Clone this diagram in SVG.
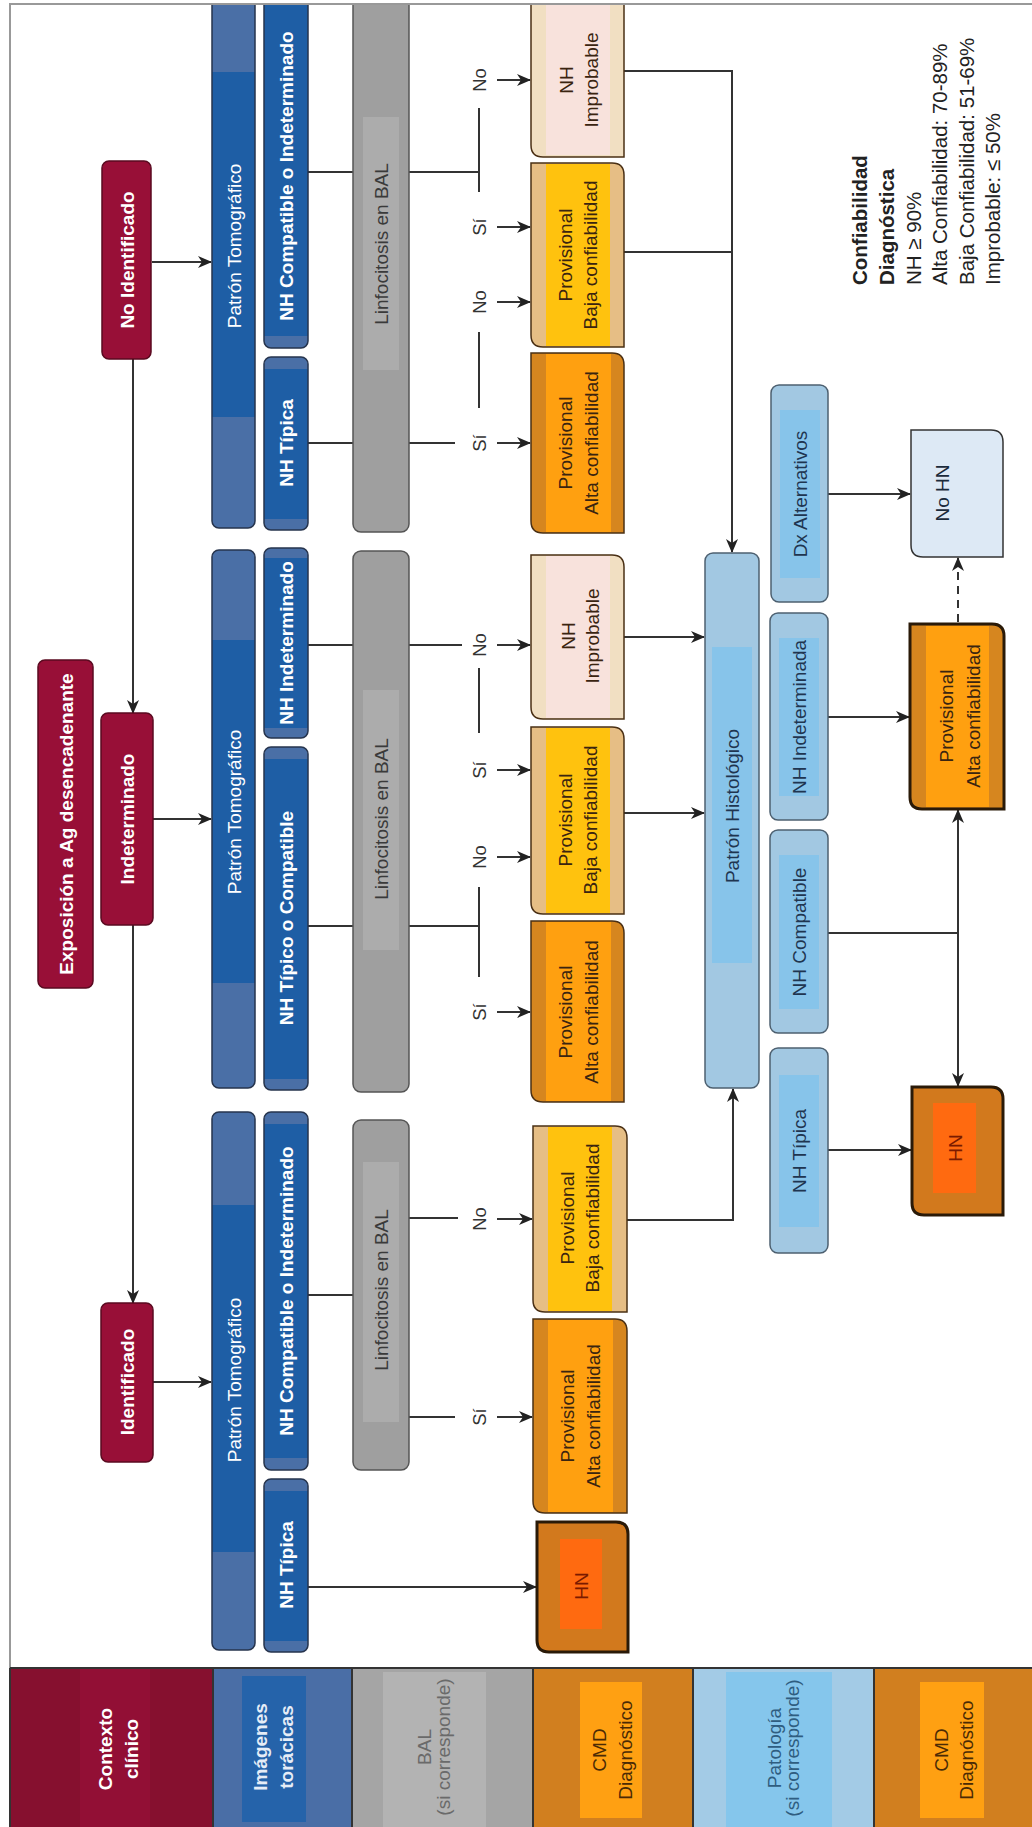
<svg xmlns="http://www.w3.org/2000/svg" width="1032" height="1827" viewBox="0 0 1032 1827">
<style>
text{font-family:"Liberation Sans",Arial,sans-serif;font-size:19px;text-anchor:middle;dominant-baseline:central}
.b{font-weight:bold}
.wt{fill:#ffffff}
.red{fill:#980f37;stroke:#5a0a20;stroke-width:1.5}
.blue-l{fill:#4a6fa6}
.blue-d{fill:#1e5ea5}
.blue-o{fill:none;stroke:#26344d;stroke-width:1.5}
.gray{fill:#9f9f9f}
.gray-i{fill:#acacac}
.gray-o{fill:none;stroke:#555;stroke-width:1.5}
.gt{fill:#3a3a3a}
.alta{fill:#d6861f}
.alta-i{fill:#ffa010}
.baja{fill:#e6be85}
.baja-i{fill:#ffc20e}
.imp{fill:#f1dfc2}
.imp-i{fill:#f8e2dc}
.cmd-o{fill:none;stroke:#4a3015;stroke-width:1.5}
.cmd-o2{fill:none;stroke:#2a1a08;stroke-width:3}
.ct{fill:#3a2410}
.pat{fill:#a2c8e2}
.pat-i{fill:#87c4ea}
.pat-o{fill:none;stroke:#4d6070;stroke-width:1.5}
.pt{fill:#1f3550}
.conn path{fill:none;stroke:#333;stroke-width:2}
.lbl{fill:#333;font-size:18.5px}
.leg{font-size:20.5px;text-anchor:start;fill:#222}
</style>
<defs>
<marker id="ah" markerUnits="userSpaceOnUse" markerWidth="14" markerHeight="12" refX="13" refY="6" orient="auto">
<path d="M0,0 L14,6 L0,12 L4,6 Z" fill="#222"/>
</marker>
<clipPath id="clipTop"><rect x="0" y="5" width="1032" height="1822"/></clipPath>
</defs>
<rect width="1032" height="1827" fill="#ffffff"/>
<!-- frame -->
<path d="M10,1668 V4 H1032" fill="none" stroke="#999" stroke-width="2"/>

<!-- bottom row header band -->
<g id="header-band">
<rect x="10" y="1668" width="203" height="159" fill="#86102f"/>
<rect x="80" y="1668" width="70" height="159" fill="#920f35"/>
<rect x="213" y="1668" width="139" height="159" fill="#4a6ea6"/>
<rect x="242" y="1676" width="64" height="146" fill="#2563aa"/>
<rect x="352" y="1668" width="181" height="159" fill="#a5a5a5"/>
<rect x="383" y="1672" width="103" height="155" fill="#b3b3b3"/>
<rect x="533" y="1668" width="160" height="159" fill="#d17f1f"/>
<rect x="580" y="1682" width="62" height="136" fill="#ffa012"/>
<rect x="693" y="1668" width="181" height="159" fill="#a3cbe6"/>
<rect x="726" y="1672" width="106" height="155" fill="#85c6ec"/>
<rect x="874" y="1668" width="158" height="159" fill="#d17f1f"/>
<rect x="920" y="1682" width="64" height="136" fill="#ffa012"/>
<path d="M10,1668 H1032 M213,1668 V1827 M352,1668 V1827 M533,1668 V1827 M693,1668 V1827 M874,1668 V1827 M10,1668 V1827" stroke="#333" stroke-width="2" fill="none"/>
<text class="b wt" font-size="18" transform="translate(105,1749) rotate(-90)">Contexto</text>
<text class="b wt" font-size="18" transform="translate(131,1749) rotate(-90)">clínico</text>
<text class="b" fill="#e6edf7" font-size="17.5" transform="translate(260,1747) rotate(-90)">Imágenes</text>
<text class="b" fill="#e6edf7" font-size="17.5" transform="translate(286,1747) rotate(-90)">torácicas</text>
<text fill="#6a6a6a" font-size="18" transform="translate(424,1747) rotate(-90)">BAL</text>
<text fill="#6a6a6a" font-size="11.5" transform="translate(443,1747) rotate(-90)">(si corresponde)</text>
<text fill="#4a2a05" font-size="18.5" transform="translate(599,1750) rotate(-90)">CMD</text>
<text fill="#4a2a05" font-size="18.5" transform="translate(625,1750) rotate(-90)">Diagnóstico</text>
<text fill="#2f5d80" font-size="18" transform="translate(774,1748) rotate(-90)">Patología</text>
<text fill="#2f5d80" font-size="11.5" transform="translate(792,1748) rotate(-90)">(si corresponde)</text>
<text fill="#4a2a05" font-size="18.5" transform="translate(941,1750) rotate(-90)">CMD</text>
<text fill="#4a2a05" font-size="18.5" transform="translate(966,1750) rotate(-90)">Diagnóstico</text>
</g>

<!-- connectors -->
<g id="connectors" class="conn">
<path d="M133,359 V713" marker-end="url(#ah)"/>
<path d="M133,925 V1303" marker-end="url(#ah)"/>
<path d="M152,262 H211" marker-end="url(#ah)"/>
<path d="M153,819 H211" marker-end="url(#ah)"/>
<path d="M153,1382 H211" marker-end="url(#ah)"/>
<path d="M308,172 H353"/>
<path d="M308,443 H353"/>
<path d="M308,645 H353"/>
<path d="M308,926 H353"/>
<path d="M308,1295 H353"/>
<path d="M308,1587 H536" marker-end="url(#ah)"/>
<path d="M409,172 H479 M479,108 V192"/>
<path d="M409,443 H455 M479,332 V408"/>
<path d="M409,645 H462 M479,668 V733"/>
<path d="M409,926 H479 M479,887 V977"/>
<path d="M409,1218 H458"/>
<path d="M409,1417 H455"/>
<path d="M497,80 H530" marker-end="url(#ah)"/>
<path d="M497,227 H530" marker-end="url(#ah)"/>
<path d="M497,302 H530" marker-end="url(#ah)"/>
<path d="M497,443 H530" marker-end="url(#ah)"/>
<path d="M497,645 H530" marker-end="url(#ah)"/>
<path d="M497,770 H530" marker-end="url(#ah)"/>
<path d="M497,857 H530" marker-end="url(#ah)"/>
<path d="M497,1012 H530" marker-end="url(#ah)"/>
<path d="M497,1219 H532" marker-end="url(#ah)"/>
<path d="M497,1417 H532" marker-end="url(#ah)"/>
<path d="M624,71 H732 V552" marker-end="url(#ah)"/>
<path d="M624,252 H732"/>
<path d="M624,637 H704" marker-end="url(#ah)"/>
<path d="M624,813 H704" marker-end="url(#ah)"/>
<path d="M627,1220 H733 V1089" marker-end="url(#ah)"/>
<path d="M828,494 H910" marker-end="url(#ah)"/>
<path d="M828,717 H909" marker-end="url(#ah)"/>
<path d="M828,933 H958 M958,933 V810" marker-end="url(#ah)"/>
<path d="M958,933 V1086" marker-end="url(#ah)"/>
<path d="M828,1150 H911" marker-end="url(#ah)"/>
<path d="M958,622 V558" stroke-dasharray="8,6" marker-end="url(#ah)"/>
<text class="lbl" transform="translate(479,80) rotate(-90)">No</text>
<text class="lbl" transform="translate(479,227) rotate(-90)">Sí</text>
<text class="lbl" transform="translate(479,302) rotate(-90)">No</text>
<text class="lbl" transform="translate(479,443) rotate(-90)">Sí</text>
<text class="lbl" transform="translate(479,645) rotate(-90)">No</text>
<text class="lbl" transform="translate(479,770) rotate(-90)">Sí</text>
<text class="lbl" transform="translate(479,857) rotate(-90)">No</text>
<text class="lbl" transform="translate(479,1012) rotate(-90)">Sí</text>
<text class="lbl" transform="translate(479,1219) rotate(-90)">No</text>
<text class="lbl" transform="translate(479,1417) rotate(-90)">Sí</text>
</g>

<g clip-path="url(#clipTop)">
<!-- clinical context -->
<g id="ctx-exposicion">
<rect class="red" x="38" y="660" width="55" height="328" rx="7"/>
<text class="b wt" font-size="17" transform="translate(66,824) rotate(-90)">Exposición a Ag desencadenante</text>
</g>
<g id="ctx-no-identificado">
<rect class="red" x="102" y="161" width="49" height="198" rx="7"/>
<text class="b wt" font-size="18" transform="translate(127,260) rotate(-90)">No Identificado</text>
</g>
<g id="ctx-indeterminado">
<rect class="red" x="101" y="713" width="52" height="212" rx="7"/>
<text class="b wt" font-size="18" transform="translate(127,819) rotate(-90)">Indeterminado</text>
</g>
<g id="ctx-identificado">
<rect class="red" x="101" y="1303" width="52" height="159" rx="7"/>
<text class="b wt" font-size="18" transform="translate(127,1382) rotate(-90)">Identificado</text>
</g>

<!-- imaging -->
<g id="img-patron-a">
<rect class="blue-l" x="212" y="-20" width="43" height="548" rx="7"/>
<rect class="blue-d" x="212" y="72" width="43" height="345"/>
<rect class="blue-o" x="212" y="-20" width="43" height="548" rx="7"/>
<text class="wt" transform="translate(234,246) rotate(-90)">Patrón Tomográfico</text>
</g>
<g id="img-patron-b">
<rect class="blue-l" x="212" y="550" width="43" height="538" rx="7"/>
<rect class="blue-d" x="212" y="640" width="43" height="343"/>
<rect class="blue-o" x="212" y="550" width="43" height="538" rx="7"/>
<text class="wt" transform="translate(234,812) rotate(-90)">Patrón Tomográfico</text>
</g>
<g id="img-patron-c">
<rect class="blue-l" x="212" y="1112" width="43" height="538" rx="7"/>
<rect class="blue-d" x="212" y="1205" width="43" height="347"/>
<rect class="blue-o" x="212" y="1112" width="43" height="538" rx="7"/>
<text class="wt" transform="translate(234,1380) rotate(-90)">Patrón Tomográfico</text>
</g>
<g id="img-nhcompind-a">
<rect class="blue-l" x="264" y="-20" width="44" height="368" rx="7"/>
<rect class="blue-d" x="264" y="5" width="44" height="331"/>
<rect class="blue-o" x="264" y="-20" width="44" height="368" rx="7"/>
<text class="b wt" font-size="17" transform="translate(286,176) rotate(-90)">NH Compatible o Indeterminado</text>
</g>
<g id="img-nhtipica-a">
<rect class="blue-l" x="264" y="357" width="44" height="173" rx="7"/>
<rect class="blue-d" x="264" y="369" width="44" height="150"/>
<rect class="blue-o" x="264" y="357" width="44" height="173" rx="7"/>
<text class="b wt" font-size="17" transform="translate(286,443) rotate(-90)">NH Típica</text>
</g>
<g id="img-nhind-b">
<rect class="blue-l" x="264" y="548" width="44" height="190" rx="7"/>
<rect class="blue-d" x="264" y="558" width="44" height="170"/>
<rect class="blue-o" x="264" y="548" width="44" height="190" rx="7"/>
<text class="b wt" font-size="17" transform="translate(286,643) rotate(-90)">NH Indeterminado</text>
</g>
<g id="img-nhtipcomp-b">
<rect class="blue-l" x="264" y="747" width="44" height="343" rx="7"/>
<rect class="blue-d" x="264" y="759" width="44" height="320"/>
<rect class="blue-o" x="264" y="747" width="44" height="343" rx="7"/>
<text class="b wt" font-size="17" transform="translate(286,918) rotate(-90)">NH Típico o Compatible</text>
</g>
<g id="img-nhcompind-c">
<rect class="blue-l" x="264" y="1112" width="44" height="358" rx="7"/>
<rect class="blue-d" x="264" y="1124" width="44" height="334"/>
<rect class="blue-o" x="264" y="1112" width="44" height="358" rx="7"/>
<text class="b wt" font-size="17" transform="translate(286,1291) rotate(-90)">NH Compatible o Indeterminado</text>
</g>
<g id="img-nhtipica-c">
<rect class="blue-l" x="264" y="1479" width="44" height="173" rx="7"/>
<rect class="blue-d" x="264" y="1491" width="44" height="150"/>
<rect class="blue-o" x="264" y="1479" width="44" height="173" rx="7"/>
<text class="b wt" font-size="17" transform="translate(286,1565) rotate(-90)">NH Típica</text>
</g>

<!-- BAL -->
<g id="bal-a">
<rect class="gray" x="353" y="-20" width="56" height="552" rx="8"/>
<rect class="gray-i" x="363" y="117" width="36" height="253"/>
<rect class="gray-o" x="353" y="-20" width="56" height="552" rx="8"/>
<text class="gt" transform="translate(381,244) rotate(-90)">Linfocitosis en BAL</text>
</g>
<g id="bal-b">
<rect class="gray" x="353" y="551" width="56" height="541" rx="8"/>
<rect class="gray-i" x="363" y="690" width="36" height="260"/>
<rect class="gray-o" x="353" y="551" width="56" height="541" rx="8"/>
<text class="gt" transform="translate(381,819) rotate(-90)">Linfocitosis en BAL</text>
</g>
<g id="bal-c">
<rect class="gray" x="353" y="1120" width="56" height="350" rx="8"/>
<rect class="gray-i" x="363" y="1162" width="36" height="260"/>
<rect class="gray-o" x="353" y="1120" width="56" height="350" rx="8"/>
<text class="gt" transform="translate(381,1290) rotate(-90)">Linfocitosis en BAL</text>
</g>

<!-- CMD nodes -->
<g id="cmd-improb-a">
<path class="imp" d="M531,-15H612Q624,-15 624,-3V157H543Q531,157 531,145Z"/>
<rect class="imp-i" x="546" y="-15" width="64" height="170"/>
<path class="cmd-o" d="M531,-15H612Q624,-15 624,-3V157H543Q531,157 531,145Z"/>
<text class="ct" transform="translate(566,80) rotate(-90)">NH</text>
<text class="ct" transform="translate(591,80) rotate(-90)">Improbable</text>
</g>
<g id="cmd-baja-a">
<path class="baja" d="M531,163H612Q624,163 624,175V347H543Q531,347 531,335Z"/>
<rect class="baja-i" x="546" y="164" width="64" height="182"/>
<path class="cmd-o" d="M531,163H612Q624,163 624,175V347H543Q531,347 531,335Z"/>
<text class="ct" font-size="18" transform="translate(565,255) rotate(-90)">Provisional</text>
<text class="ct" font-size="16.5" transform="translate(590,255) rotate(-90)">Baja confiabilidad</text>
</g>
<g id="cmd-alta-a">
<path class="alta" d="M531,353H612Q624,353 624,365V533H543Q531,533 531,521Z"/>
<rect class="alta-i" x="546" y="354" width="65" height="178"/>
<path class="cmd-o" d="M531,353H612Q624,353 624,365V533H543Q531,533 531,521Z"/>
<text class="ct" font-size="18.5" transform="translate(565,443) rotate(-90)">Provisional</text>
<text class="ct" font-size="19" transform="translate(591,443) rotate(-90)">Alta confiabilidad</text>
</g>
<g id="cmd-improb-b">
<path class="imp" d="M531,555H612Q624,555 624,567V719H543Q531,719 531,707Z"/>
<rect class="imp-i" x="546" y="556" width="64" height="162"/>
<path class="cmd-o" d="M531,555H612Q624,555 624,567V719H543Q531,719 531,707Z"/>
<text class="ct" transform="translate(568,636) rotate(-90)">NH</text>
<text class="ct" transform="translate(592,636) rotate(-90)">Improbable</text>
</g>
<g id="cmd-baja-b">
<path class="baja" d="M531,727H612Q624,727 624,739V914H543Q531,914 531,902Z"/>
<rect class="baja-i" x="546" y="728" width="64" height="185"/>
<path class="cmd-o" d="M531,727H612Q624,727 624,739V914H543Q531,914 531,902Z"/>
<text class="ct" font-size="18" transform="translate(565,820) rotate(-90)">Provisional</text>
<text class="ct" font-size="16.5" transform="translate(590,820) rotate(-90)">Baja confiabilidad</text>
</g>
<g id="cmd-alta-b">
<path class="alta" d="M531,921H612Q624,921 624,933V1102H543Q531,1102 531,1090Z"/>
<rect class="alta-i" x="546" y="922" width="65" height="179"/>
<path class="cmd-o" d="M531,921H612Q624,921 624,933V1102H543Q531,1102 531,1090Z"/>
<text class="ct" font-size="18.5" transform="translate(565,1012) rotate(-90)">Provisional</text>
<text class="ct" font-size="19" transform="translate(591,1012) rotate(-90)">Alta confiabilidad</text>
</g>
<g id="cmd-baja-c">
<path class="baja" d="M533,1126H615Q627,1126 627,1138V1312H545Q533,1312 533,1300Z"/>
<rect class="baja-i" x="548" y="1127" width="64" height="184"/>
<path class="cmd-o" d="M533,1126H615Q627,1126 627,1138V1312H545Q533,1312 533,1300Z"/>
<text class="ct" font-size="18" transform="translate(567,1218) rotate(-90)">Provisional</text>
<text class="ct" font-size="16.5" transform="translate(592,1218) rotate(-90)">Baja confiabilidad</text>
</g>
<g id="cmd-alta-c">
<path class="alta" d="M533,1319H615Q627,1319 627,1331V1513H545Q533,1513 533,1501Z"/>
<rect class="alta-i" x="548" y="1320" width="65" height="192"/>
<path class="cmd-o" d="M533,1319H615Q627,1319 627,1331V1513H545Q533,1513 533,1501Z"/>
<text class="ct" font-size="18.5" transform="translate(567,1416) rotate(-90)">Provisional</text>
<text class="ct" font-size="19" transform="translate(593,1416) rotate(-90)">Alta confiabilidad</text>
</g>
<g id="cmd-hn-c">
<path fill="#d2791d" d="M537,1522H616Q628,1522 628,1534V1652H549Q537,1652 537,1640Z"/>
<rect x="560" y="1539" width="42" height="90" fill="#ff6a10"/>
<path class="cmd-o2" d="M537,1522H616Q628,1522 628,1534V1652H549Q537,1652 537,1640Z"/>
<text fill="#7a1a00" font-size="18" transform="translate(581,1586) rotate(-90)">HN</text>
</g>

<!-- pathology -->
<g id="pat-patron">
<rect class="pat" x="705" y="553" width="54" height="535" rx="8"/>
<rect class="pat-i" x="712" y="647" width="40" height="316"/>
<rect class="pat-o" x="705" y="553" width="54" height="535" rx="8"/>
<text class="pt" transform="translate(732,806) rotate(-90)">Patrón Histológico</text>
</g>
<g id="pat-dx-alt">
<rect class="pat" x="771" y="385" width="57" height="217" rx="8"/>
<rect class="pat-i" x="780" y="410" width="40" height="168"/>
<rect class="pat-o" x="771" y="385" width="57" height="217" rx="8"/>
<text class="pt" transform="translate(800,494) rotate(-90)">Dx Alternativos</text>
</g>
<g id="pat-nh-indet">
<rect class="pat" x="770" y="613" width="58" height="207" rx="8"/>
<rect class="pat-i" x="779" y="638" width="40" height="158"/>
<rect class="pat-o" x="770" y="613" width="58" height="207" rx="8"/>
<text class="pt" transform="translate(799,717) rotate(-90)">NH Indeterminada</text>
</g>
<g id="pat-nh-comp">
<rect class="pat" x="770" y="830" width="58" height="203" rx="8"/>
<rect class="pat-i" x="779" y="855" width="40" height="154"/>
<rect class="pat-o" x="770" y="830" width="58" height="203" rx="8"/>
<text class="pt" transform="translate(799,932) rotate(-90)">NH Compatible</text>
</g>
<g id="pat-nh-tipica">
<rect class="pat" x="770" y="1048" width="58" height="205" rx="8"/>
<rect class="pat-i" x="779" y="1075" width="40" height="152"/>
<rect class="pat-o" x="770" y="1048" width="58" height="205" rx="8"/>
<text class="pt" transform="translate(799,1151) rotate(-90)">NH Típica</text>
</g>

<!-- final CMD -->
<g id="cmd-no-hn">
<path fill="#dde9f5" stroke="#333" stroke-width="1.5" d="M911,430H991Q1003,430 1003,442V557H923Q911,557 911,545Z"/>
<text fill="#1a2a3a" transform="translate(942,493) rotate(-90)">No HN</text>
</g>
<g id="cmd-alta-final">
<path class="alta" d="M910,624H992Q1004,624 1004,636V809H922Q910,809 910,797Z"/>
<rect class="alta-i" x="926" y="626" width="63" height="181"/>
<path class="cmd-o2" d="M910,624H992Q1004,624 1004,636V809H922Q910,809 910,797Z"/>
<text class="ct" font-size="18.5" transform="translate(946,716) rotate(-90)">Provisional</text>
<text class="ct" font-size="19" transform="translate(973,716) rotate(-90)">Alta confiabilidad</text>
</g>
<g id="cmd-hn-final">
<path fill="#d2791d" d="M912,1087H991Q1003,1087 1003,1099V1215H924Q912,1215 912,1203Z"/>
<rect x="933" y="1103" width="43" height="90" fill="#ff6a10"/>
<path class="cmd-o2" d="M912,1087H991Q1003,1087 1003,1099V1215H924Q912,1215 912,1203Z"/>
<text fill="#7a1a00" font-size="18" transform="translate(955,1148) rotate(-90)">HN</text>
</g>
</g>

<!-- legend -->
<g id="legend">
<text class="leg b" transform="translate(859,285) rotate(-90)">Confiabilidad</text>
<text class="leg b" transform="translate(886,285) rotate(-90)">Diagnóstica</text>
<text class="leg" transform="translate(913,285) rotate(-90)">NH ≥ 90%</text>
<text class="leg" transform="translate(939,285) rotate(-90)">Alta Confiabilidad: 70-89%</text>
<text class="leg" transform="translate(966,285) rotate(-90)">Baja Confiabilidad: 51-69%</text>
<text class="leg" transform="translate(992,285) rotate(-90)">Improbable: ≤ 50%</text>
</g>
</svg>
